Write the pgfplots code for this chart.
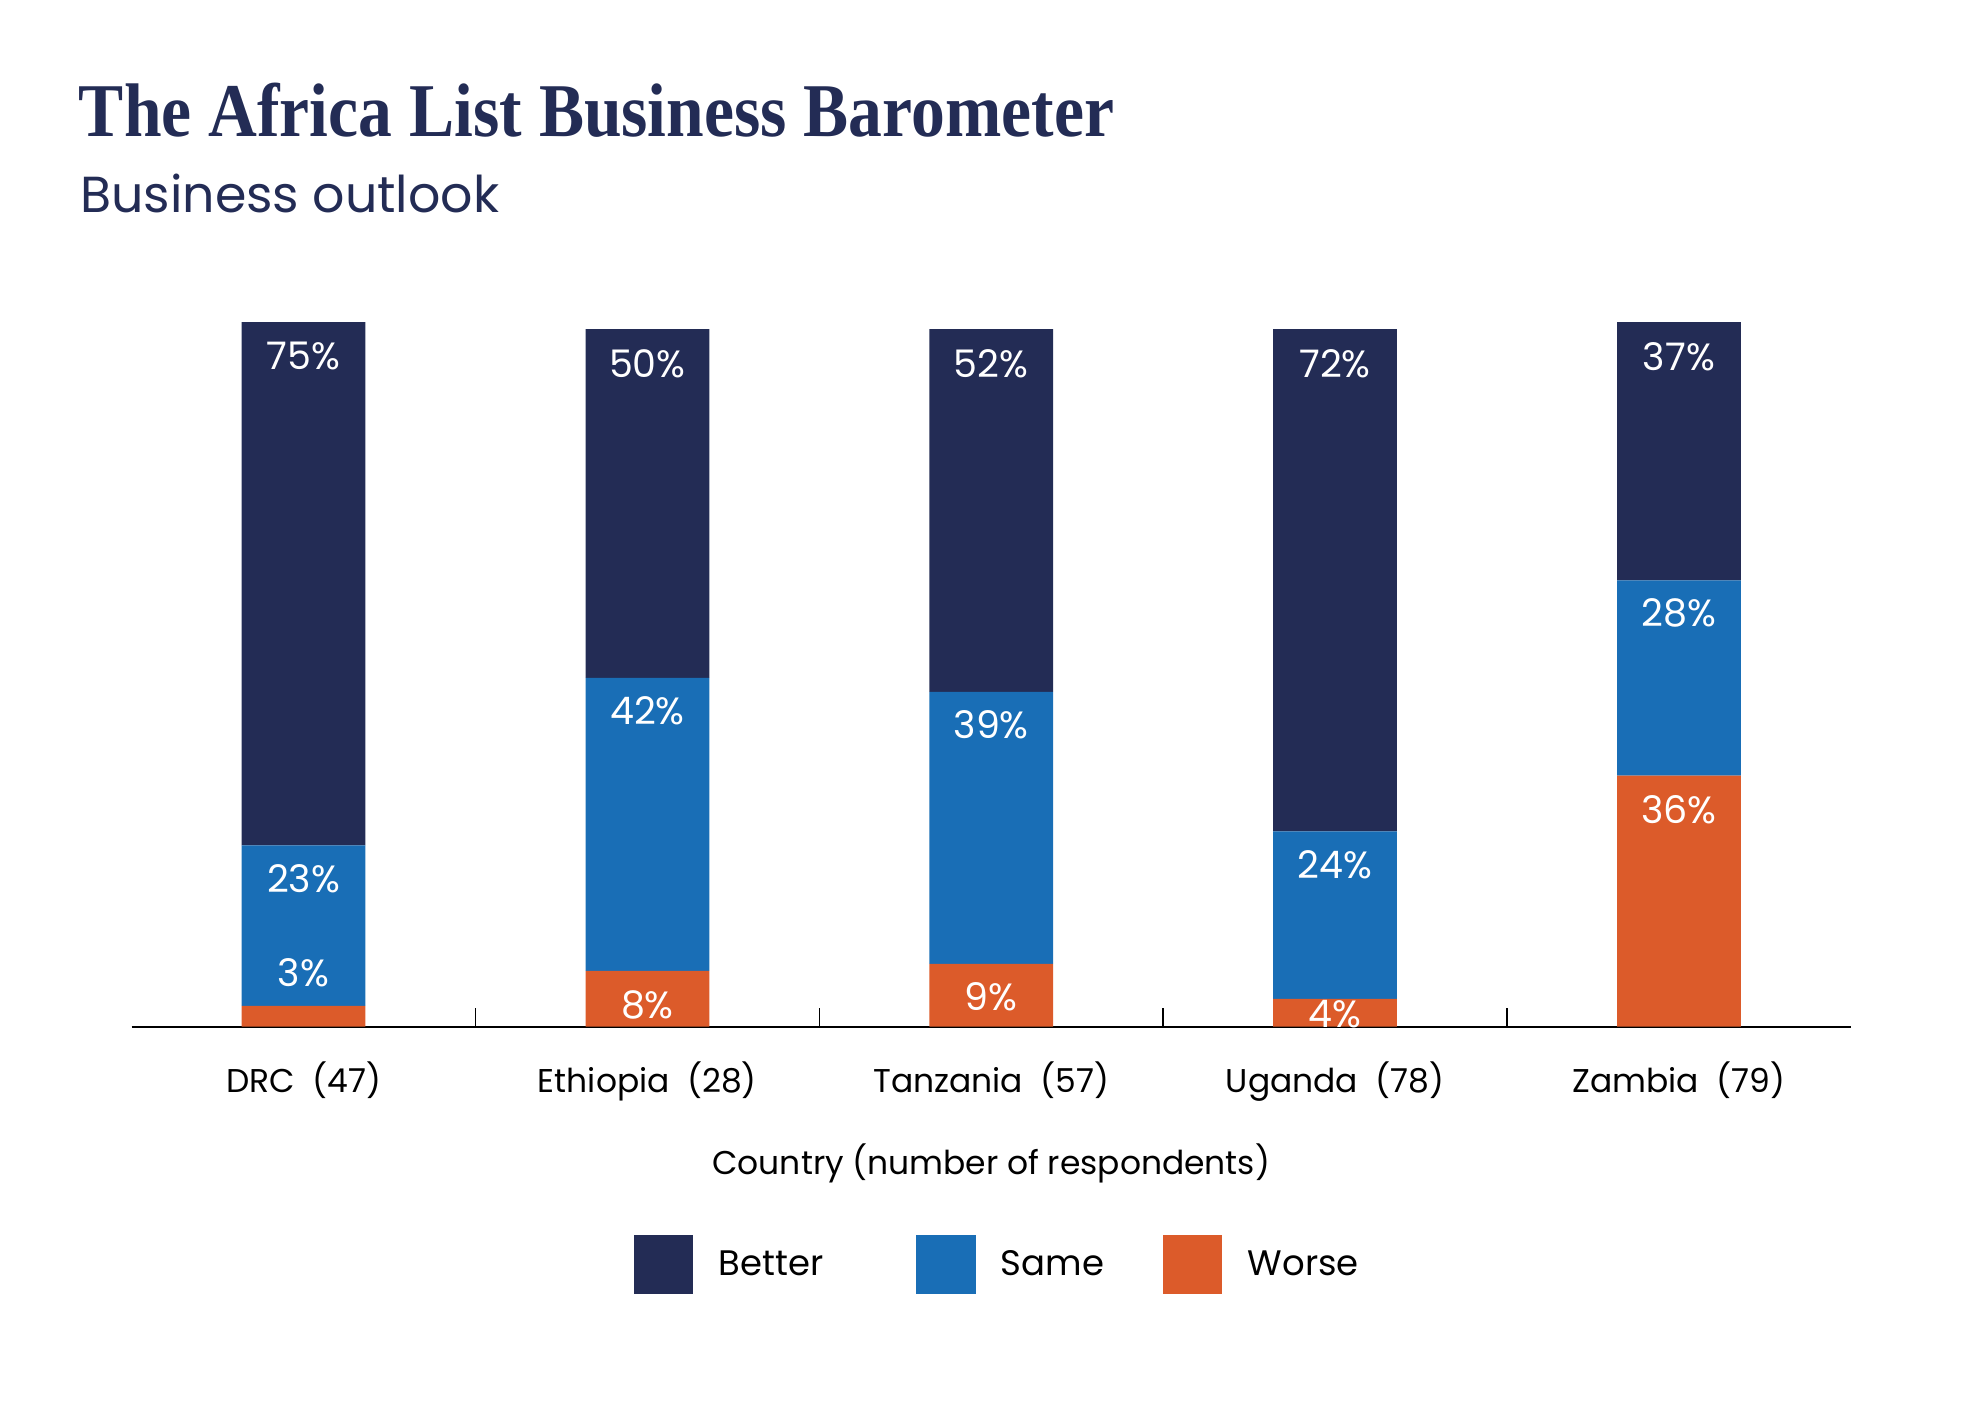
\documentclass[border=0pt]{standalone}
\usepackage{fontspec}
\setmainfont{Poppins}
\newfontfamily\titlefont[FakeStretch=0.89]{Liberation Serif}
\usepackage{pgfplots}
\usepackage{pgfplotstable}
\pgfplotsset{compat=1.18}

\definecolor{better}{HTML}{232C55}
\definecolor{same}{HTML}{196EB6}
\definecolor{worse}{HTML}{DC5B2A}

% country, shares in %, and label offset (pt from segment top) for the Worse labels
\pgfplotstableread{
x better same worse dyw
0 75 23 3 13
1 50 42 8 -13.5
2 52 39 9 -13
3 72 24 4 -6
4 37 28 36 -13.5
}\outlook

\begin{document}
\begin{tikzpicture}
\path[use as bounding box] (-52pt,-154.5pt) rectangle (732pt,405.5pt);
\node[anchor=base west, text=better, inner sep=0pt] at (-21pt,351.5pt)
  {\titlefont\bfseries\fontsize{30}{34}\selectfont The Africa List Business Barometer};
\node[anchor=base west, text=better, inner sep=0pt] at (-20.5pt,321.5pt)
  {\fontsize{20}{24}\selectfont Business outlook};

\begin{axis}[
  at={(0,0)}, anchor=south west,
  scale only axis, width=679pt, height=275.5pt,
  ybar stacked, bar width=0.36,
  xmin=-0.5, xmax=4.5, ymin=0, ymax=100,
  clip=false,
  axis y line=none, axis x line=bottom,
  axis line style={-, line width=0.9pt, black},
  xtick={0,...,4},
  xticklabels={DRC\ \ (47), Ethiopia\ \ (28), Tanzania\ \ (57), Uganda\ \ (78), Zambia\ \ (79)},
  major tick length=0pt,
  minor xtick={0.5,1.5,2.5,3.5},
  minor tick length=7.5pt, tick align=inside,
  minor tick style={black, line width=0.6pt},
  xticklabel style={anchor=base, yshift=-26pt, font=\fontsize{13}{15}\selectfont},
  xlabel={Country (number of respondents)},
  xlabel style={at={(axis description cs:0.5,0)}, anchor=base, yshift=-58.5pt,
    font=\fontsize{13}{15}\selectfont},
  /pgf/number format/assume math mode=true,
  nodes near coords={\pgfmathprintnumber{\pgfplotspointmeta}\%},
  nodes near coords align={center},
  every node near coord/.append style={text=white, font=\fontsize{15}{17}\selectfont},
  legend style={at={(0.5,-0.3412)}, anchor=center, xshift=3pt, draw=none, legend columns=3,
    font=\fontsize{14}{16}\selectfont,
    /tikz/every even column/.append style={column sep=0pt},
    /tikz/every odd column/.append style={column sep=8pt}},
  legend image code/.code={\fill[#1] (0pt,-11.75pt) rectangle (23.5pt,11.75pt);},
  reverse legend,
]
% labels sit at the middle of a segment: shift them up to just below its top
\addplot[fill=worse, draw=none,
  visualization depends on={1.3775*\thisrow{worse}+\thisrow{dyw} \as \dy},
  every node near coord/.append style={yshift=\dy pt}]
  table[x=x, y=worse] {\outlook};
\addplot[fill=same, draw=none,
  visualization depends on={1.3775*\thisrow{same}-13 \as \dy},
  every node near coord/.append style={yshift=\dy pt}]
  table[x=x, y=same] {\outlook};
\addplot[fill=better, draw=none,
  visualization depends on={1.3775*\thisrow{better}-13.5 \as \dy},
  every node near coord/.append style={yshift=\dy pt}]
  table[x=x, y=better] {\outlook};
\legend{Worse, \makebox[62pt][l]{Same}, \makebox[76pt][l]{Better}}
\draw[gray, line width=0.6pt] (axis cs:0,2) -- (axis cs:0,4.4);
\end{axis}
\end{tikzpicture}
\end{document}
